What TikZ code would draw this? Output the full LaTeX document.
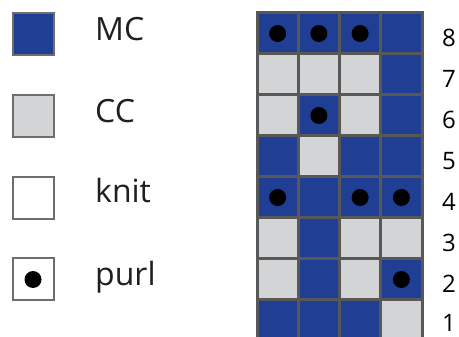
\documentclass[tikz,border=0pt]{standalone}
\usepackage{fontspec}
\setmainfont{Open Sans}
\definecolor{mcblue}{RGB}{32,62,148}
\definecolor{ccgray}{RGB}{211,212,214}
\definecolor{gridline}{RGB}{88,88,88}
\definecolor{legline}{RGB}{110,110,110}
\tikzset{
  cellB/.style={draw=gridline, line width=3pt, fill=mcblue, minimum width=41.25pt, minimum height=41pt, inner sep=0pt, outer sep=0pt},
  cellG/.style={draw=gridline, line width=3pt, fill=ccgray, minimum width=41.25pt, minimum height=41pt, inner sep=0pt, outer sep=0pt},
  legbox/.style={draw=legline, line width=2pt, minimum width=41pt, minimum height=42pt, inner sep=0pt},
  purldot/.style={circle, fill=black, minimum size=17pt, inner sep=0pt},
  legtext/.style={anchor=base west, font=\fontsize{32}{36}\selectfont, inner sep=0pt, text=black!88},
  rowlabel/.style={anchor=base, font=\fontsize{24}{28}\selectfont, inner sep=0pt}
}
\begin{document}
\begin{tikzpicture}[x=1pt,y=-1pt]
\useasboundingbox (0,0) rectangle (459,337);
\clip (0,0) rectangle (459,337);
% legend
\node[legbox, fill=mcblue] (lmc) at (33,34.5) {};
\node[legbox, fill=ccgray] (lcc) at (33,116) {};
\node[legbox, fill=white] (lknit) at (33,198) {};
\node[legbox, fill=white] (lpurl) at (33,279.5) {};
\node[purldot] (lpurldot) at (lpurl.center) {};
\node[legtext] (tmc) at (95,41) {MC};
\node[legtext] (tcc) at (95,123) {CC};
\node[legtext] (tknit) at (95,203) {knit};
\node[legtext] (tpurl) at (95,286) {purl};
% chart
\foreach \r/\a/\b/\c/\d in {8/B/B/B/B,7/G/G/G/B,6/G/B/G/B,5/B/G/B/B,4/B/B/B/B,3/G/B/G/G,2/G/B/G/B,1/B/B/B/G}{
  \pgfmathsetmacro{\yy}{13+(8-\r)*41+20.5}
  \node[cell\a] (c\r-1) at (277.625,\yy) {};
  \node[cell\b] (c\r-2) at (318.875,\yy) {};
  \node[cell\c] (c\r-3) at (360.125,\yy) {};
  \node[cell\d] (c\r-4) at (401.375,\yy) {};
  \pgfmathsetmacro{\yb}{min(13+(8-\r)*41+33.5,331.5)}
  \node[rowlabel] (n\r) at (449,\yb) {\r};
}
% purl stitches
\foreach \p in {8-1,8-2,8-3,6-2,4-1,4-3,4-4,2-4}{
  \node[purldot] (d\p) at (c\p.center) {};
}
\end{tikzpicture}
\end{document}
